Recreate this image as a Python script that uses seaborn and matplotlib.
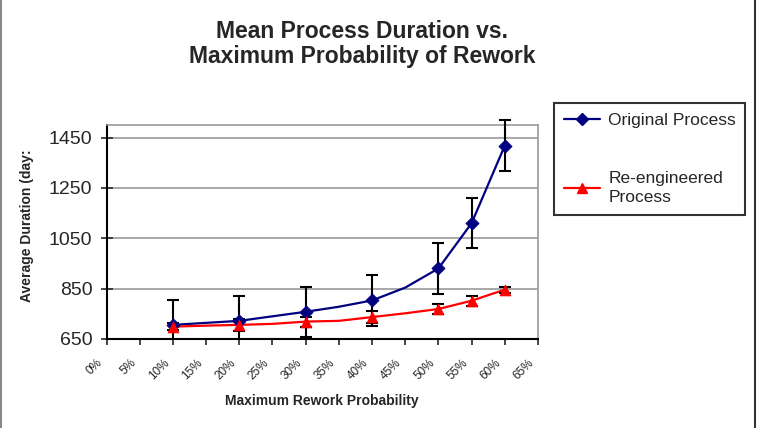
import numpy as np
import pandas as pd
import matplotlib
matplotlib.use("Agg")
import matplotlib.pyplot as plt
import matplotlib.transforms as mtransforms
import seaborn as sns
from matplotlib.lines import Line2D

# eje de categorias (probabilidad maxima de retrabajo, en %)
categories = [0, 5, 10, 15, 20, 25, 30, 35, 40, 45, 50, 55, 60, 65]
tick_labels = [f"{c}%" for c in categories]

# curvas completas (puntos intermedios sin marcador)
line_x = [10, 15, 20, 25, 30, 35, 40, 45, 50, 55, 60]
orig_line = [706, 714, 722, 740, 758, 778, 803, 854, 930, 1110, 1418]
reeng_line = [699, 703, 706, 710, 719, 722, 737, 752, 769, 802, 846]

# puntos medidos con barras de error
pts_x = [10, 20, 30, 40, 50, 55, 60]
orig_mean = [706, 722, 758, 803, 930, 1110, 1418]
orig_err = [100, 100, 100, 100, 100, 100, 100]
reeng_mean = [699, 706, 719, 737, 769, 802, 846]
reeng_err = [15, 25, 20, 25, 20, 20, 12]

blue = "#000080"
red = "#ff0000"

sns.set_style("white")
plt.rcParams["font.family"] = ["Liberation Sans", "DejaVu Sans"]

df_lines = pd.DataFrame({
    "prob": line_x * 2,
    "dur": orig_line + reeng_line,
    "process": ["Original Process"] * len(line_x) + ["Re-engineered Process"] * len(line_x),
})

fig = plt.figure(figsize=(7.63, 4.28), dpi=100)
ax = fig.add_axes([0.1396, 0.208, 0.5655, 0.500])

sns.lineplot(data=df_lines, x="prob", y="dur", hue="process",
             palette={"Original Process": blue, "Re-engineered Process": red},
             linewidth=1.6, legend=False, ax=ax, zorder=3)

# barras de error: recortadas abajo en el eje, pero pueden salir por arriba
clip = mtransforms.TransformedBbox(mtransforms.Bbox([[-0.05, 0], [1.05, 1.2]]),
                                   ax.transAxes)
for mean, err in [(orig_mean, orig_err), (reeng_mean, reeng_err)]:
    eb = ax.errorbar(pts_x, mean, yerr=err, fmt="none", ecolor="black",
                     elinewidth=1.5, capsize=4, capthick=1.5, zorder=4)
    for art in eb.lines[1] + eb.lines[2]:
        art.set_clip_box(clip)

sns.scatterplot(x=pts_x, y=orig_mean, marker="D", s=45, color=blue,
                edgecolor=blue, ax=ax, zorder=5)
sns.scatterplot(x=pts_x, y=reeng_mean, marker="^", s=60, color=red,
                edgecolor=red, ax=ax, zorder=5)

ax.set_xlim(0, 65)
ax.set_ylim(650, 1500)
ax.set_xticks(categories)
ax.set_xticklabels([])
# etiquetas giradas, desplazadas a la izquierda del tick como en Excel
lab_trans = ax.get_xaxis_transform() + mtransforms.ScaledTranslation(
    -10 / 100, -18 / 100, fig.dpi_scale_trans)
for c, lab in zip(categories, tick_labels):
    ax.text(c, 0, lab, transform=lab_trans, rotation=45, ha="right", va="top",
            rotation_mode="anchor", fontsize=8.5, clip_on=False)

ax.set_yticks([650, 850, 1050, 1250, 1450])
ax.tick_params(axis="y", labelsize=14, length=8.5, width=1.2, direction="inout",
               left=True, pad=6)
ax.tick_params(axis="x", length=4.5, width=1.2, direction="out", bottom=True)
ax.yaxis.grid(True, color="#999999", linewidth=1.2)
ax.set_axisbelow(True)

for side in ["top", "right"]:
    ax.spines[side].set_color("#999999")
    ax.spines[side].set_linewidth(1.2)
for side in ["left", "bottom"]:
    ax.spines[side].set_color("black")
    ax.spines[side].set_linewidth(1.5)

ax.set_xlabel("Maximum Rework Probability", fontsize=10, fontweight="bold")
ax.xaxis.set_label_coords(0.5, -0.255)
ax.set_ylabel("Average Duration (day:", fontsize=10, fontweight="bold")
ax.yaxis.set_label_coords(-0.168, 0.53)

fig.text(0.475, 0.897, "Mean Process Duration vs.\nMaximum Probability of Rework",
         ha="center", va="center", fontsize=16.5, fontweight="bold", linespacing=1.1)

handles = [
    Line2D([0], [0], color=blue, marker="D", markersize=6, linewidth=1.6),
    Line2D([0], [0], color=red, marker="^", markersize=7, linewidth=1.6),
]
leg = fig.legend(handles, ["Original Process", "Re-engineered\nProcess"],
                 loc="upper left", bbox_to_anchor=(0.7265, 0.759),
                 borderaxespad=0, fontsize=12.5, frameon=True, fancybox=False,
                 shadow=False, labelspacing=2.5, handlelength=2.1,
                 borderpad=0.55, handletextpad=0.45)
leg.get_frame().set_edgecolor("black")
leg.get_frame().set_linewidth(1.5)
for txt in leg.get_texts():
    txt.set_linespacing(1.35)

# marco exterior del grafico (lados izquierdo y derecho)
fig.add_artist(Line2D([0.0015, 0.0015], [0, 1], transform=fig.transFigure,
                      color="#888888", linewidth=1.5))
fig.add_artist(Line2D([0.990, 0.990], [0, 1], transform=fig.transFigure,
                      color="#333333", linewidth=1.5))

plt.savefig("out.png", dpi=100)
plt.close()
